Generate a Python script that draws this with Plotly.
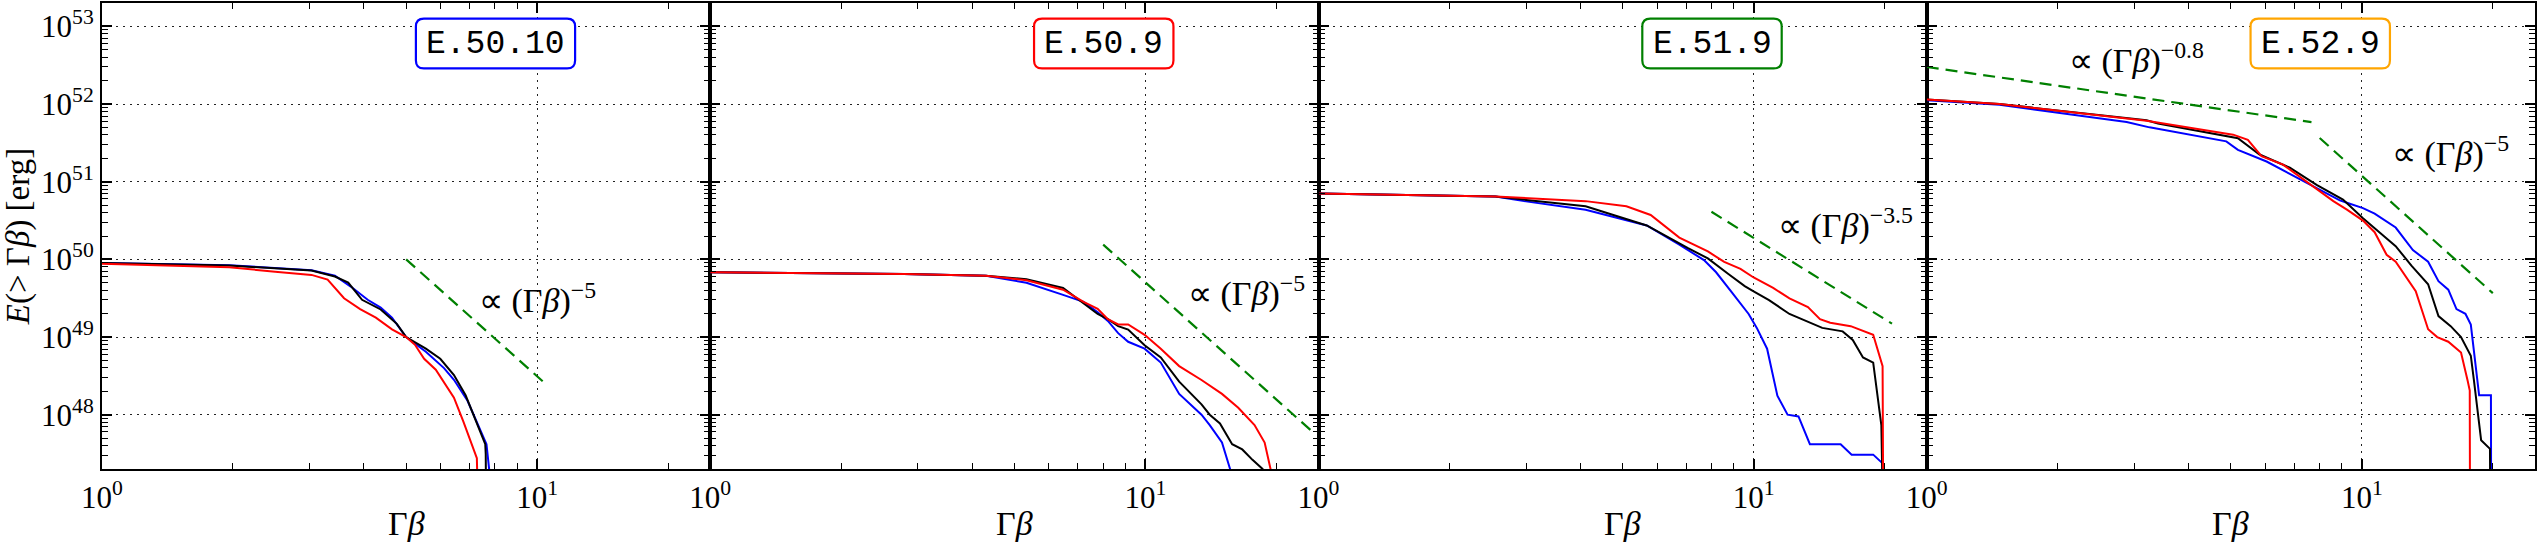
import plotly.graph_objects as go

# ---------------- data ----------------
panel_names = ["E.50.10", "E.50.9", "E.51.9", "E.52.9"]
panel_colors = ["#0000ff", "#ff0000", "#008000", "#ffa500"]

# Panel 1 : E.50.10   (x = Gamma*beta, y = log10 E)
p1_blue_x = [1.0, 1.96, 3.03, 3.43, 3.73, 4.08, 4.37, 4.64, 5.0, 5.55, 6.11, 6.44, 6.92, 7.44, 7.65, 7.86]
p1_blue_y = [49.954, 49.925, 49.86, 49.79, 49.65, 49.48, 49.38, 49.25, 49.0, 48.81, 48.6, 48.45, 48.18, 47.78, 47.62, 47.0]
p1_black_x = [1.0, 1.96, 3.03, 3.43, 3.68, 3.96, 4.37, 4.76, 5.0, 5.55, 5.99, 6.44, 6.85, 7.19, 7.6, 7.62, 7.63]
p1_black_y = [49.954, 49.92, 49.856, 49.78, 49.70, 49.48, 49.355, 49.17, 49.0, 48.85, 48.72, 48.51, 48.25, 47.955, 47.62, 47.49, 47.0]
p1_red_x = [1.0, 1.96, 2.5, 3.03, 3.3, 3.6, 3.92, 4.26, 4.64, 5.0, 5.24, 5.5, 5.85, 6.11, 6.44, 6.77, 7.1, 7.27, 7.3]
p1_red_y = [49.945, 49.9, 49.84, 49.80, 49.74, 49.5, 49.36, 49.25, 49.1, 49.0, 48.9, 48.72, 48.58, 48.42, 48.22, 47.91, 47.6, 47.44, 47.0]

# Panel 2 : E.50.9
p2_blue_x = [1.0, 2.79, 4.30, 5.33, 6.47, 7.21, 7.77, 8.20, 8.66, 9.13, 9.96, 10.85, 11.96, 13.46, 14.06, 15.0, 15.66, 15.7]
p2_blue_y = [49.834, 49.811, 49.789, 49.70, 49.543, 49.454, 49.32, 49.207, 49.05, 48.939, 48.85, 48.671, 48.268, 48.0, 47.866, 47.642, 47.3, 47.0]
p2_black_x = [1.0, 2.79, 4.30, 5.33, 6.47, 7.21, 7.77, 8.20, 8.66, 9.13, 9.96, 10.85, 11.96, 13.46, 14.06, 14.84, 15.83, 16.7, 17.63, 18.6, 18.7]
p2_black_y = [49.834, 49.811, 49.789, 49.744, 49.632, 49.431, 49.297, 49.23, 49.14, 49.096, 48.894, 48.738, 48.425, 48.134, 48.0, 47.888, 47.62, 47.553, 47.419, 47.301, 47.0]
p2_red_x = [1.0, 2.79, 4.30, 5.33, 6.47, 7.21, 7.77, 8.20, 8.66, 9.13, 9.96, 10.85, 11.96, 13.46, 15.0, 16.35, 17.82, 18.8, 19.4, 19.45]
p2_red_y = [49.834, 49.811, 49.789, 49.731, 49.61, 49.454, 49.364, 49.23, 49.163, 49.163, 49.029, 48.85, 48.626, 48.447, 48.268, 48.09, 47.866, 47.642, 47.3, 47.0]

# Panel 3 : E.51.9
p3_blue_x = [1.0, 2.55, 2.97, 4.11, 5.68, 6.75, 7.69, 8.20, 8.94, 9.74, 10.17, 10.74, 11.34, 11.97, 12.68, 13.47, 15.85, 16.8, 18.83, 19.79, 19.8]
p3_blue_y = [50.849, 50.809, 50.75, 50.639, 50.437, 50.191, 49.99, 49.834, 49.565, 49.297, 49.118, 48.85, 48.246, 48.0, 47.978, 47.62, 47.62, 47.486, 47.486, 47.374, 47.0]
p3_black_x = [1.0, 2.55, 4.11, 5.68, 7.05, 7.85, 8.75, 9.54, 10.0, 10.85, 12.09, 13.19, 14.38, 16.02, 16.9, 17.84, 18.83, 19.66, 19.79]
p3_black_y = [50.849, 50.809, 50.683, 50.437, 50.147, 50.013, 49.811, 49.655, 49.588, 49.476, 49.297, 49.207, 49.118, 49.073, 48.962, 48.738, 48.671, 47.866, 47.0]
p3_red_x = [1.0, 2.55, 4.11, 5.10, 5.80, 6.75, 7.85, 8.56, 9.33, 10.0, 11.09, 12.09, 13.33, 14.21, 15.0, 16.72, 18.83, 19.79, 19.85]
p3_red_y = [50.849, 50.809, 50.75, 50.683, 50.572, 50.281, 50.102, 49.968, 49.878, 49.767, 49.632, 49.498, 49.386, 49.23, 49.185, 49.14, 49.029, 48.626, 47.0]

# Panel 4 : E.52.9
p4_blue_x = [1.0, 1.47, 2.88, 3.25, 4.88, 5.19, 6.04, 7.73, 8.9, 9.24, 10.06, 10.7, 11.96, 13.1, 14.2, 15.0, 15.8, 16.5, 17.3, 17.8, 18.6, 19.8, 19.82]
p4_blue_y = [52.05, 51.99, 51.77, 51.70, 51.52, 51.41, 51.26, 50.94, 50.76, 50.73, 50.66, 50.59, 50.41, 50.12, 49.97, 49.72, 49.61, 49.36, 49.3, 49.16, 48.25, 48.25, 47.0]
p4_black_x = [1.0, 1.47, 3.2, 3.4, 5.19, 5.82, 6.83, 7.87, 9.05, 10.06, 10.97, 11.96, 13.0, 14.2, 15.0, 16.0, 16.9, 17.8, 18.1, 18.8, 19.7, 19.72]
p4_black_y = [52.06, 52.0, 51.79, 51.75, 51.56, 51.35, 51.18, 50.96, 50.77, 50.53, 50.35, 50.17, 49.92, 49.68, 49.27, 49.14, 49.0, 48.76, 48.44, 47.67, 47.56, 47.0]
p4_red_x = [1.0, 1.47, 3.2, 5.06, 5.47, 5.88, 6.59, 7.8, 8.6, 9.24, 10.06, 10.7, 11.4, 11.96, 13.3, 14.2, 14.9, 15.8, 16.9, 17.5, 17.7, 17.72]
p4_red_y = [52.06, 52.0, 51.786, 51.606, 51.54, 51.33, 51.22, 50.92, 50.75, 50.64, 50.5, 50.35, 50.06, 49.97, 49.59, 49.1, 49.0, 48.94, 48.8, 48.44, 48.31, 47.0]

# power-law guide lines (end points)
guide_x = [[5.0, 10.5], [8.0, 24.0], [8.0, 20.8], [1.0, 7.66], [8.0, 20.0]]
guide_E = [[1.0e50, 2.45e48], [1.55e50, 6.3e47], [4.1e50, 1.49e49], [3.0e52, 5.86e51], [3.65e51, 3.67e49]]
guide_panel = [0, 1, 2, 3, 3]
guide_labels = ["∝ (Γ<i>β</i>)<sup>−5</sup>", "∝ (Γ<i>β</i>)<sup>−5</sup>",
                "∝ (Γ<i>β</i>)<sup>−3.5</sup>", "∝ (Γ<i>β</i>)<sup>−0.8</sup>",
                "∝ (Γ<i>β</i>)<sup>−5</sup>"]

x_tickvals = [1, 10]
x_ticktext = ["10<sup>0</sup>", "10<sup>1</sup>"]
y_tickvals = [1e48, 1e49, 1e50, 1e51, 1e52, 1e53]
y_ticktext = ["10<sup>48</sup>", "10<sup>49</sup>", "10<sup>50</sup>", "10<sup>51</sup>",
              "10<sup>52</sup>", "10<sup>53</sup>"]
x_minor = [2, 3, 4, 5, 6, 7, 8, 9, 20]
y_minor = [k * 10.0 ** n for n in range(47, 54) for k in range(2, 10) if 2e47 <= k * 10.0 ** n <= 2e53]

panels = [
    [(p1_blue_x, p1_blue_y), (p1_black_x, p1_black_y), (p1_red_x, p1_red_y)],
    [(p2_blue_x, p2_blue_y), (p2_black_x, p2_black_y), (p2_red_x, p2_red_y)],
    [(p3_blue_x, p3_blue_y), (p3_black_x, p3_black_y), (p3_red_x, p3_red_y)],
    [(p4_blue_x, p4_blue_y), (p4_black_x, p4_black_y), (p4_red_x, p4_red_y)],
]
line_colors = ["#0000ff", "#000000", "#ff0000"]

# ---------------- layout geometry ----------------
W, H = 2538, 546
ML, MR, MT, MB = 102, 3, 1, 77
PW = W - ML - MR
PH = H - MT - MB
SERIF = "Liberation Serif"


def px(x):
    return (x - ML) / PW


def py(y):
    return (H - MB - y) / PH


fig = go.Figure()

for i, series in enumerate(panels):
    xa = "x" if i == 0 else f"x{i+1}"
    ya = "y" if i == 0 else f"y{i+1}"
    for (xs, ly), col in zip(series, line_colors):
        fig.add_trace(go.Scatter(x=xs, y=[10.0 ** v for v in ly], mode="lines",
                                 line=dict(color=col, width=2), xaxis=xa, yaxis=ya,
                                 showlegend=False, hoverinfo="skip"))

for gx, gE, gp in zip(guide_x, guide_E, guide_panel):
    xa = "x" if gp == 0 else f"x{gp+1}"
    ya = "y" if gp == 0 else f"y{gp+1}"
    fig.add_trace(go.Scatter(x=gx, y=gE, mode="lines",
                             line=dict(color="#008000", width=2.2, dash="12px,7px"),
                             xaxis=xa, yaxis=ya, showlegend=False, hoverinfo="skip"))

axis_common = dict(
    type="log", showline=True, linewidth=2, linecolor="black", mirror="allticks",
    ticks="inside", ticklen=10, tickwidth=1.5, tickcolor="black",
    showgrid=True, gridcolor="#222222", gridwidth=1, griddash="2px,5px",
    zeroline=False, tickfont=dict(family=SERIF, size=31, color="black"),
)

layout = dict(width=W, height=H, margin=dict(l=ML, r=MR, t=MT, b=MB),
              paper_bgcolor="white", plot_bgcolor="white", showlegend=False)

for i in range(4):
    sx = "" if i == 0 else str(i + 1)
    layout["xaxis" + sx] = dict(axis_common, domain=[i / 4, (i + 1) / 4], range=[0, 1.39794],
                                anchor="y" + sx, tickvals=x_tickvals, ticktext=x_ticktext,
                                minor=dict(tickmode="array", tickvals=x_minor, ticks="inside",
                                           ticklen=6, tickwidth=1.2, tickcolor="black", showgrid=False))
    ydict = dict(axis_common, range=[47.30103, 53.30103], anchor="x" + sx,
                 tickvals=y_tickvals, ticktext=y_ticktext,
                 minor=dict(tickmode="array", tickvals=y_minor, ticks="inside",
                            ticklen=6, tickwidth=1.2, tickcolor="black", showgrid=False))
    if i > 0:
        ydict["matches"] = "y"
        ydict["showticklabels"] = False
    else:
        ydict["title"] = dict(text="<i>E</i>(> Γ<i>β</i>) [erg]", standoff=6,
                              font=dict(family=SERIF, size=33, color="black"))
    layout["yaxis" + sx] = ydict

fig.update_layout(**layout)

annotations = []
shapes = []
panel_w = PW / 4
for i, (name, col) in enumerate(zip(panel_names, panel_colors)):
    cx = ML + i * panel_w + 393.5
    cy = 41.7
    hw = (len(name) * 19.8 + 20.6) / 2
    hh = 25
    r = 8
    x0, x1, y0, y1 = cx - hw, cx + hw, cy - hh, cy + hh
    pts = [
        ("M", x0 + r, y0), ("L", x1 - r, y0), ("Q", x1, y0, x1, y0 + r), ("L", x1, y1 - r),
        ("Q", x1, y1, x1 - r, y1), ("L", x0 + r, y1), ("Q", x0, y1, x0, y1 - r),
        ("L", x0, y0 + r), ("Q", x0, y0, x0 + r, y0),
    ]
    path = ""
    for p in pts:
        if p[0] == "Q":
            path += f"Q{px(p[1]):.6f},{py(p[2]):.6f} {px(p[3]):.6f},{py(p[4]):.6f} "
        else:
            path += f"{p[0]}{px(p[1]):.6f},{py(p[2]):.6f} "
    path += "Z"
    shapes.append(dict(type="path", path=path, xref="paper", yref="paper",
                       line=dict(color=col, width=2.2), fillcolor="white", layer="above"))
    annotations.append(dict(text=name, x=px(cx), y=py(cy + 1), xref="paper", yref="paper",
                            showarrow=False, xanchor="center", yanchor="middle",
                            font=dict(family="Liberation Mono", size=33, color="black")))
    # x-axis title
    annotations.append(dict(text="Γ<i>β</i>", x=px(ML + (i + 0.5) * panel_w), y=py(524),
                            xref="paper", yref="paper", showarrow=False,
                            xanchor="center", yanchor="middle",
                            font=dict(family=SERIF, size=34, color="black")))

# guide labels
label_pos = [(477, 298), (1186, 291), (1776, 222), (2067, 57), (2390, 150)]
for txt, (lx, ly) in zip(guide_labels, label_pos):
    annotations.append(dict(text=txt, x=px(lx), y=py(ly), xref="paper", yref="paper",
                            showarrow=False, xanchor="left", yanchor="middle",
                            font=dict(family=SERIF, size=34, color="black")))

fig.update_layout(annotations=annotations, shapes=shapes)
fig.write_html("out.html")
